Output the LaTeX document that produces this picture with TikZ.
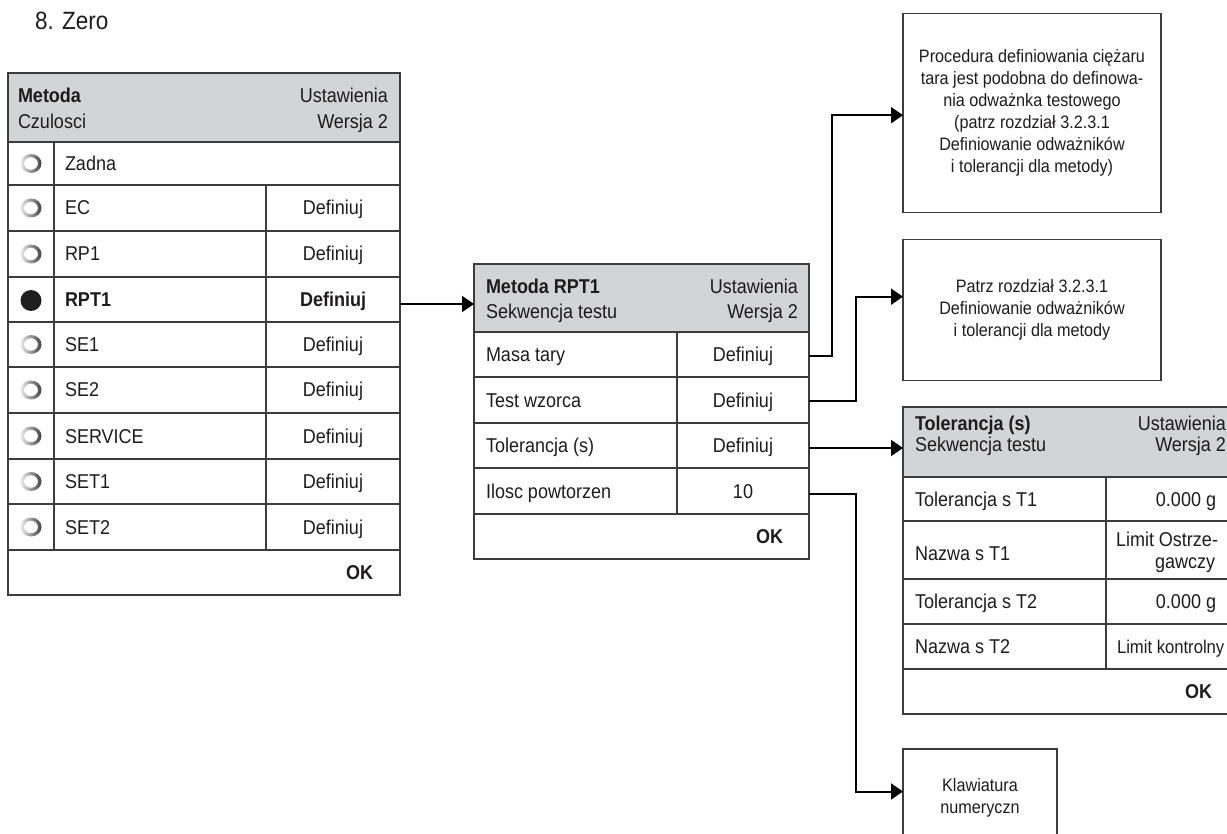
\documentclass[tikz,border=0pt]{standalone}
\usepackage{fontspec}
\setmainfont{Liberation Sans}[FakeStretch=0.9]
\usetikzlibrary{arrows.meta,calc}
\definecolor{ink}{RGB}{30,27,28}
\definecolor{rule}{RGB}{60,60,60}
\definecolor{hdr}{RGB}{211,212,213}
\begin{document}
\begin{tikzpicture}[x=1pt,y=-1pt,
  panel/.style={draw=rule,line width=1.3pt,inner sep=0pt,outer sep=0pt,anchor=north west},
  sep/.style={draw=rule,line width=1.3pt},
  lbl/.style={font=\fontsize{20}{25}\selectfont,text=ink,inner sep=0pt,outer sep=0pt},
  bold/.style={lbl,font=\fontsize{20}{25}\selectfont\bfseries},
  note/.style={draw=rule,line width=1.3pt,inner sep=0pt,outer sep=0pt,align=center,
    font=\fontsize{18}{22}\selectfont,text=ink},
  conn/.style={draw=black,line width=2pt,-{Triangle[length=12pt,width=16pt]}},
  radio/.style={even odd rule,left color=gray!15,right color=black!75}]
\useasboundingbox (0,0) rectangle (1227,834);
\clip (0,0) rectangle (1227,834);

% list item above the screens
\node[lbl,font=\fontsize{25}{28}\selectfont,anchor=base west] (title) at (35,29.5) {8. Zero};

% ---------- method selection screen ----------
\fill[hdr] (8,73) rectangle (400,142);
\foreach \y in {142,185,231,277,322,367,413,459,504,550}
  \draw[sep] (8,\y) -- (400,\y);
\draw[sep] (54,142) -- (54,550);
\draw[sep] (266,185) -- (266,550);
\node[panel,minimum width=392pt,minimum height=522pt] (lp) at (8,73) {};

\node[bold,anchor=base west] (lh1) at (18,102.7) {Metoda};
\node[lbl,anchor=base west] (lh2) at (18,128.3) {Czulosci};
\node[lbl,anchor=base east] (lh3) at (388,102.7) {Ustawienia};
\node[lbl,anchor=base east] (lh4) at (388,128.3) {Wersja 2};

\foreach \c/\t [count=\i] in {163.5/Zadna,208/EC,254/RP1,344.5/SE1,390/SE2,
    436/SERVICE,481.5/SET1,527/SET2}{
  \path[radio] (31,\c) ellipse[x radius=10.5,y radius=9.5]
               (31,\c) ellipse[x radius=7,y radius=6.3];
  \node[lbl,anchor=base west] (ln\i) at (65,\c+7) {\t};
}
\foreach \c [count=\i] in {208,254,344.5,390,436,481.5,527}
  \node[lbl,anchor=base] (ld\i) at (333,\c+7) {Definiuj};
\fill[black!88] (31,300.5) circle[radius=10.5];
\node[bold,anchor=base west] (lsel) at (65,306.5) {RPT1};
\node[bold,anchor=base] (lseld) at (333,306.5) {Definiuj};
\node[bold,anchor=base east] (lok) at (373,579.5) {OK};

% ---------- test sequence screen ----------
\fill[hdr] (474,264) rectangle (809,332);
\foreach \y in {332,377,423,468,514}
  \draw[sep] (474,\y) -- (809,\y);
\draw[sep] (677,332) -- (677,514);
\node[panel,minimum width=335pt,minimum height=295pt] (mp) at (474,264) {};

\node[bold,anchor=base west] (mh1) at (486,293.3) {Metoda RPT1};
\node[lbl,anchor=base west] (mh2) at (486,318.3) {Sekwencja testu};
\node[lbl,anchor=base east] (mh3) at (798,293.3) {Ustawienia};
\node[lbl,anchor=base east] (mh4) at (798,318.3) {Wersja 2};

\foreach \c/\t/\v [count=\i] in {354.5/Masa tary/Definiuj,400/Test wzorca/Definiuj,
    445.5/Tolerancja (s)/Definiuj,491/Ilosc powtorzen/10}{
  \node[lbl,anchor=base west] (mn\i) at (486,\c+7) {\t};
  \node[lbl,anchor=base] (mv\i) at (743,\c+7) {\v};
}
\node[bold,anchor=base east] (mok) at (783,543.5) {OK};

% ---------- tolerance screen ----------
\fill[hdr] (903,407) rectangle (1238,477);
\foreach \y in {477,521,579,624,669}
  \draw[sep] (903,\y) -- (1238,\y);
\draw[sep] (1106,477) -- (1106,669);
\node[panel,minimum width=335pt,minimum height=307pt] (tp) at (903,407) {};

\node[bold,anchor=base west] (th1) at (915,430) {Tolerancja (s)};
\node[lbl,anchor=base west] (th2) at (915,451) {Sekwencja testu};
\node[lbl,anchor=base east] (th3) at (1226,430) {Ustawienia};
\node[lbl,anchor=base east] (th4) at (1226,451) {Wersja 2};

\node[lbl,anchor=base west] (tn1) at (915,506) {Tolerancja s T1};
\node[lbl,anchor=base west] (tn2) at (915,560) {Nazwa s T1};
\node[lbl,anchor=base west] (tn3) at (915,608.5) {Tolerancja s T2};
\node[lbl,anchor=base west] (tn4) at (915,653.5) {Nazwa s T2};
\node[lbl,anchor=base] (tv1) at (1186,506) {0.000 g};
\node[lbl,anchor=base] (tv2a) at (1167,546.7) {Limit Ostrze-};
\node[lbl,anchor=base] (tv2b) at (1185,568.3) {gawczy};
\node[lbl,anchor=base] (tv3) at (1186,608.5) {0.000 g};
\node[lbl,font=\fontsize{18.5}{25}\selectfont,anchor=base west] (tv4) at (1117,653.5) {Limit kontrolny};
\node[bold,anchor=base east] (tok) at (1212,698.5) {OK};

% ---------- explanatory boxes ----------
\node[note,minimum width=258pt,minimum height=199pt] (box1) at (1032,112.7)
  {Procedura definiowania ciężaru\\tara jest podobna do definowa-\\nia odważnka testowego\\
   (patrz rozdział 3.2.3.1\\Definiowanie odważników\\i tolerancji dla metody)};
\node[note,minimum width=258pt,minimum height=141pt] (box2) at (1032,309.7)
  {Patrz rozdział 3.2.3.1\\Definiowanie odważników\\i tolerancji dla metody};
\node[note,minimum width=154pt,minimum height=97pt] (kbd) at (980,797.5)
  {Klawiatura\\numeryczn};

% ---------- connectors ----------
\coordinate (lRPT) at (400,304);
\coordinate (mMasa) at (809,356.5);
\coordinate (mTest) at (809,401);
\coordinate (mTol) at (809,448);
\coordinate (mIlosc) at (809,493.5);

\draw[conn] (lRPT) -- ($(mp.north west)+(0,40)$);
\draw[conn] (mMasa) -- ++(23,0) |- ($(box1.north west)+(0,102)$);
\draw[conn] (mTest) -- ++(47,0) |- ($(box2.north west)+(0,57.5)$);
\draw[conn] (mTol) -- ($(tp.north west)+(0,41)$);
\draw[conn] (mIlosc) -- ++(47,0) |- ($(kbd.north west)+(0,42.5)$);
\end{tikzpicture}
\end{document}
